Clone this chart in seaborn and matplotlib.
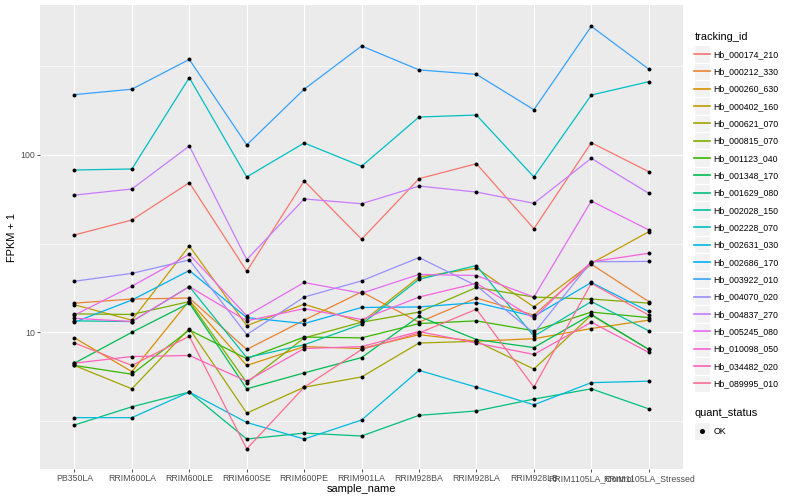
import numpy as np
import pandas as pd
import matplotlib
matplotlib.use("Agg")
import matplotlib.pyplot as plt
import seaborn as sns
from matplotlib.lines import Line2D
from matplotlib.patches import Rectangle
from matplotlib.legend_handler import HandlerBase
from matplotlib.ticker import FixedLocator, FixedFormatter, NullFormatter

# ---------------- data ----------------
samples = ["PB350LA", "RRIM600LA", "RRIM600LE", "RRIM600SE", "RRIM600PE",
           "RRIM901LA", "RRIM928BA", "RRIM928LA", "RRIM928LB",
           "RRIM1105LA_Control", "RRIM1105LA_Stressed"]

tracking_ids = ["Hb_000174_210", "Hb_000212_330", "Hb_000260_630", "Hb_000402_160",
                "Hb_000621_070", "Hb_000815_070", "Hb_001123_040", "Hb_001348_170",
                "Hb_001629_080", "Hb_002028_150", "Hb_002228_070", "Hb_002631_030",
                "Hb_002686_170", "Hb_003922_010", "Hb_004070_020", "Hb_004837_270",
                "Hb_005245_080", "Hb_010098_050", "Hb_034482_020", "Hb_089995_010"]

# FPKM per sample (same order as `samples`)
hb_000174_210 = [34.4, 42.0, 68.8, 21.1, 70.4, 32.5, 72.5, 88.3, 37.4, 116.3, 79.5]
hb_000212_330 = [13.6, 14.4, 14.6, 7.0, 10.7, 15.9, 10.4, 14.6, 11.5, 23.2, 13.9]
hb_000260_630 = [8.3, 5.0, 14.1, 5.5, 7.3, 7.1, 8.7, 7.9, 8.2, 9.5, 10.7]
hb_000402_160 = [13.3, 10.7, 29.7, 9.9, 13.4, 10.4, 19.5, 22.0, 12.9, 23.5, 35.9]
hb_000621_070 = [5.5, 3.8, 9.5, 2.5, 3.9, 4.6, 7.7, 7.9, 5.2, 11.5, 7.0]
hb_000815_070 = [11.7, 11.6, 13.9, 4.2, 8.3, 10.4, 12.0, 16.9, 14.8, 14.4, 13.6]
hb_001123_040 = [5.5, 4.8, 9.3, 6.1, 8.4, 8.3, 10.2, 10.6, 9.2, 12.0, 11.1]
hb_001348_170 = [5.7, 9.0, 13.6, 3.8, 4.9, 6.2, 11.3, 8.1, 7.2, 11.6, 7.0]
hb_001629_080 = [2.0, 2.8, 3.6, 1.5, 1.7, 1.6, 2.4, 2.6, 3.2, 3.8, 2.7]
hb_002028_150 = [10.6, 10.5, 17.1, 6.2, 7.5, 10.1, 18.9, 22.8, 8.5, 13.9, 9.2]
hb_002228_070 = [81.3, 82.4, 272.0, 74.2, 115.9, 85.4, 162.8, 167.0, 74.2, 216.8, 258.0]
hb_002631_030 = [2.3, 2.3, 3.6, 2.1, 1.5, 2.2, 5.1, 3.9, 2.9, 4.2, 4.3]
hb_002686_170 = [10.4, 14.2, 21.3, 11.1, 10.2, 12.8, 12.9, 13.7, 11.3, 18.1, 12.1]
hb_003922_010 = [218.0, 234.0, 345.0, 113.0, 234.0, 411.0, 301.0, 284.0, 179.0, 531.0, 304.0]
hb_004070_020 = [18.4, 20.5, 24.6, 8.7, 14.8, 18.5, 25.4, 17.3, 8.9, 24.0, 24.1]
hb_004837_270 = [58.4, 63.3, 111.4, 24.7, 55.5, 52.1, 65.8, 60.8, 52.4, 94.8, 59.8]
hb_005245_080 = [11.5, 17.2, 26.5, 11.4, 18.1, 15.6, 20.2, 19.9, 14.8, 54.0, 36.8]
hb_010098_050 = [11.0, 10.5, 17.1, 10.6, 12.6, 10.8, 14.8, 17.9, 11.0, 24.0, 26.9]
hb_034482_020 = [5.7, 6.3, 6.4, 4.3, 7.1, 7.3, 9.1, 7.7, 6.5, 10.4, 6.7]
hb_089995_010 = [7.7, 5.5, 8.5, 1.2, 3.9, 7.0, 8.9, 12.5, 3.9, 17.9, 11.5]

series = [hb_000174_210, hb_000212_330, hb_000260_630, hb_000402_160, hb_000621_070,
          hb_000815_070, hb_001123_040, hb_001348_170, hb_001629_080, hb_002028_150,
          hb_002228_070, hb_002631_030, hb_002686_170, hb_003922_010, hb_004070_020,
          hb_004837_270, hb_005245_080, hb_010098_050, hb_034482_020, hb_089995_010]

quant_status = "OK"

# ggplot2 default hue palette for 20 levels
colors = ["#F8766D", "#EA8331", "#D89000", "#C09B00", "#A3A500", "#7CAE00", "#39B600",
          "#00BB4E", "#00BF7D", "#00C1A3", "#00BFC4", "#00BAE0", "#00B0F6", "#35A2FF",
          "#9590FF", "#C77CFF", "#E76BF3", "#FA62DB", "#FF62BC", "#FF6C91"]

rows = []
for tid, vals in zip(tracking_ids, series):
    for i, (s, v) in enumerate(zip(samples, vals)):
        rows.append({"tracking_id": tid, "sample_name": s, "pos": i,
                     "fpkm1": v + 1.0, "quant_status": quant_status})
df = pd.DataFrame(rows)

# ---------------- style ----------------
plt.rcParams["font.family"] = ["Liberation Sans", "DejaVu Sans"]
TICK_FS = 6.3
TITLE_FS = 7.9

fig = plt.figure(figsize=(8, 5), dpi=100)
ax = fig.add_axes([0.05, 0.062, 0.804, 0.928])
ax.set_facecolor("#EBEBEB")
ax.set_axisbelow(True)

sns.lineplot(data=df, x="pos", y="fpkm1", hue="tracking_id", hue_order=tracking_ids,
             palette=colors, estimator=None, sort=False, lw=0.9, legend=False, ax=ax)
sns.scatterplot(data=df, x="pos", y="fpkm1", color="black", s=8, marker="o",
                linewidth=0, legend=False, ax=ax, zorder=5)

ax.set_yscale("log")
ax.set_ylim(1.694, 701.5)
ax.set_xlim(-0.6, len(samples) - 0.4)

ax.yaxis.set_major_locator(FixedLocator([1, 10, 100, 1000]))
ax.yaxis.set_major_formatter(FixedFormatter(["1", "10", "100", "1000"]))
ax.yaxis.set_minor_locator(FixedLocator([10 ** 0.5, 10 ** 1.5, 10 ** 2.5]))
ax.yaxis.set_minor_formatter(NullFormatter())
ax.set_xticks(range(len(samples)))
ax.set_xticklabels(samples)

ax.grid(which="major", color="white", lw=0.85)
ax.grid(which="minor", axis="y", color="white", lw=0.45)
ax.tick_params(which="major", length=2, width=0.6, color="#333333",
               labelsize=TICK_FS, labelcolor="#4D4D4D", pad=1.6)
ax.tick_params(which="minor", length=0)
for sp in ax.spines.values():
    sp.set_visible(False)

ax.set_xlabel("sample_name", fontsize=TITLE_FS, labelpad=0.5)
ax.set_ylabel("FPKM + 1", fontsize=TITLE_FS, labelpad=2)


# ---------------- legends ----------------
class KeyHandler(HandlerBase):
    """ggplot-like legend key: grey square with the line / point centred in it."""
    def create_artists(self, legend, orig_handle, xdescent, ydescent, width, height,
                       fontsize, trans):
        S = height
        yc = 0.33 * fontsize
        rect = Rectangle((-xdescent, yc - S / 2), width, S, facecolor="#F2F2F2",
                         edgecolor="white", lw=0.9, transform=trans)
        mk = orig_handle.get_marker()
        if mk not in (None, "None", "", " "):
            art = Line2D([-xdescent + width / 2], [yc], marker=mk, ls="",
                         ms=orig_handle.get_markersize(),
                         color=orig_handle.get_color(), transform=trans)
        else:
            art = Line2D([-xdescent, -xdescent + width], [yc, yc],
                         color=orig_handle.get_color(),
                         lw=orig_handle.get_linewidth(), transform=trans)
        return [rect, art]


common = dict(loc="upper left", frameon=False, handler_map={Line2D: KeyHandler()},
              handlelength=1.76, handleheight=2.67, labelspacing=0,
              handletextpad=0.45, borderaxespad=0, borderpad=0, alignment="left",
              fontsize=TICK_FS, title_fontsize=TITLE_FS)

line_handles = [Line2D([], [], color=c, lw=1.2) for c in colors]
leg1 = fig.legend(line_handles, tracking_ids, title="tracking_id",
                  bbox_to_anchor=(0.868, 0.937), **common)
leg1._legend_box.sep = 3

pt_handle = [Line2D([], [], color="black", marker="o", ls="", ms=2.6)]
leg2 = fig.legend(pt_handle, [quant_status], title="quant_status",
                  bbox_to_anchor=(0.868, 0.183), **common)
leg2._legend_box.sep = 3

fig.savefig("out.png", dpi=100)
